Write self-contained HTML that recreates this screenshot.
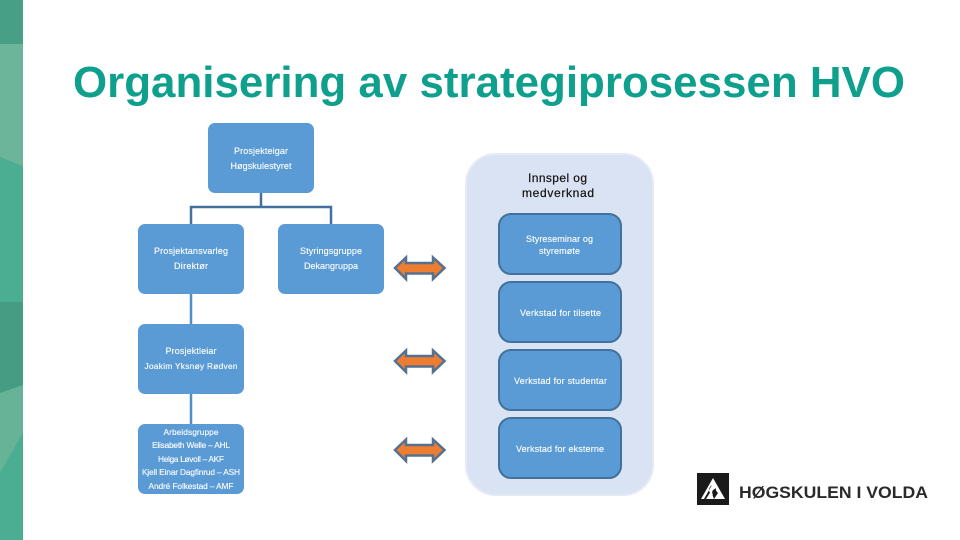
<!DOCTYPE html>
<html lang="nn"><head><meta charset="utf-8"><title>Organisering av strategiprosessen HVO</title>
<style>html,body{margin:0;padding:0;background:#fff}svg{display:block}text{font-family:"Liberation Sans",sans-serif}.w{font-size:9px;fill:#fff;text-anchor:middle;stroke:#fff;stroke-width:.12}.s{font-size:8.300px;fill:#fff;text-anchor:middle;stroke:#fff;stroke-width:.12}</style></head>
<body>
<svg xmlns="http://www.w3.org/2000/svg" width="960" height="540" viewBox="0 0 960 540">
<rect width="960" height="540" fill="#fff"/>
<!-- sidebar -->
<rect x="0" y="0" width="23" height="540" fill="#4bae92"/>
<rect x="0" y="0" width="23" height="44" fill="#479f86"/>
<polygon points="0,44 23,44 23,166 0,157" fill="#6cb59b"/>
<rect x="0" y="302" width="23" height="92" fill="#459c82"/>
<polygon points="0,393 23,385 23,432 0,473" fill="#66b398"/>
<!-- title -->
<text x="73" y="97" font-size="44" font-weight="700" fill="#0f9f8d" textLength="832" lengthAdjust="spacingAndGlyphs">Organisering av strategiprosessen HVO</text>
<!-- connectors -->
<path d="M261 192V207M191 224V207H331V224" fill="none" stroke="#41719c" stroke-width="2.500"/>
<path d="M191 293V324M191 394V424" fill="none" stroke="#4f8fc8" stroke-width="2.500"/>
<!-- left boxes -->
<g fill="#5b9bd5">
<rect x="208" y="123" width="106" height="70" rx="7"/>
<rect x="138" y="224" width="106" height="70" rx="7"/>
<rect x="278" y="224" width="106" height="70" rx="7"/>
<rect x="138" y="324" width="106" height="70" rx="7"/>
<rect x="138" y="424" width="106" height="70" rx="7"/>
</g>
<text class="w" x="261" y="154" textLength="54">Prosjekteigar</text>
<text class="w" x="261" y="169" textLength="61">Høgskulestyret</text>
<text class="w" x="191" y="254" textLength="74">Prosjektansvarleg</text>
<text class="w" x="191" y="269" textLength="34">Direktør</text>
<text class="w" x="331" y="254" textLength="62">Styringsgruppe</text>
<text class="w" x="331" y="269" textLength="54">Dekangruppa</text>
<text class="w" x="191" y="354" textLength="51">Prosjektleiar</text>
<text class="s" x="191" y="369" textLength="93">Joakim Yksnøy Rødven</text>
<text class="s" x="191" y="435" textLength="55">Arbeidsgruppe</text>
<text class="s" x="191" y="448" textLength="78">Elisabeth Welle – AHL</text>
<text class="s" x="191" y="462" textLength="66">Helga Løvoll – AKF</text>
<text class="s" x="191" y="475" textLength="98">Kjell Einar Dagfinrud – ASH</text>
<text class="s" x="191" y="489" textLength="85">André Folkestad – AMF</text>
<!-- right container -->
<rect x="466" y="154" width="187" height="341" rx="30" fill="#dae3f3" stroke="#e4eaf6" stroke-width="2"/>
<text x="557.500" y="182" font-size="12" fill="#111" text-anchor="middle" textLength="59" stroke="#111" stroke-width="0.200">Innspel og</text>
<text x="558" y="197" font-size="12" fill="#111" text-anchor="middle" textLength="72" stroke="#111" stroke-width="0.200">medverknad</text>
<g fill="#5b9bd5" stroke="#41719c" stroke-width="2">
<rect x="499" y="214" width="122" height="60" rx="12"/>
<rect x="499" y="282" width="122" height="60" rx="12"/>
<rect x="499" y="350" width="122" height="60" rx="12"/>
<rect x="499" y="418" width="122" height="60" rx="12"/>
</g>
<text class="w" x="559.500" y="242" textLength="67">Styreseminar og</text>
<text class="w" x="559.500" y="254" textLength="41">styremøte</text>
<text class="w" x="560.500" y="316" textLength="81">Verkstad for tilsette</text>
<text class="w" x="560.500" y="384" textLength="93">Verkstad for studentar</text>
<text class="w" x="560" y="452" textLength="88">Verkstad for eksterne</text>
<!-- arrows -->
<g fill="#ed7d31" stroke="#56708f" stroke-width="2.500" stroke-linejoin="miter">
<polygon points="395,268 406,257.500 406,263 433,263 433,257.500 444.500,268 433,279 433,273.500 406,273.500 406,279"/>
<polygon points="395,361 406,350.500 406,356 433,356 433,350.500 444.500,361 433,372 433,366.500 406,366.500 406,372"/>
<polygon points="395,450 406,439.500 406,445 433,445 433,439.500 444.500,450 433,461 433,455.500 406,455.500 406,461"/>
</g>
<!-- logo -->
<rect x="697" y="473" width="32" height="32" fill="#1a1a1a"/>
<path d="M713 478L725 499H701Z" fill="#fff"/>
<path d="M712 485C707 489 709 493 713 495C711 491 713 490 716 488C715 491 718 492 719 495L722 499H704Z" fill="#1a1a1a"/>
<path d="M706 499L711 491L714 499ZM714 499L718 493L722 499Z" fill="#fff"/>
<text x="739" y="498" font-size="17" font-weight="700" fill="#2a2a2a" textLength="189" lengthAdjust="spacingAndGlyphs">HØGSKULEN I VOLDA</text>
</svg>
</body></html>
